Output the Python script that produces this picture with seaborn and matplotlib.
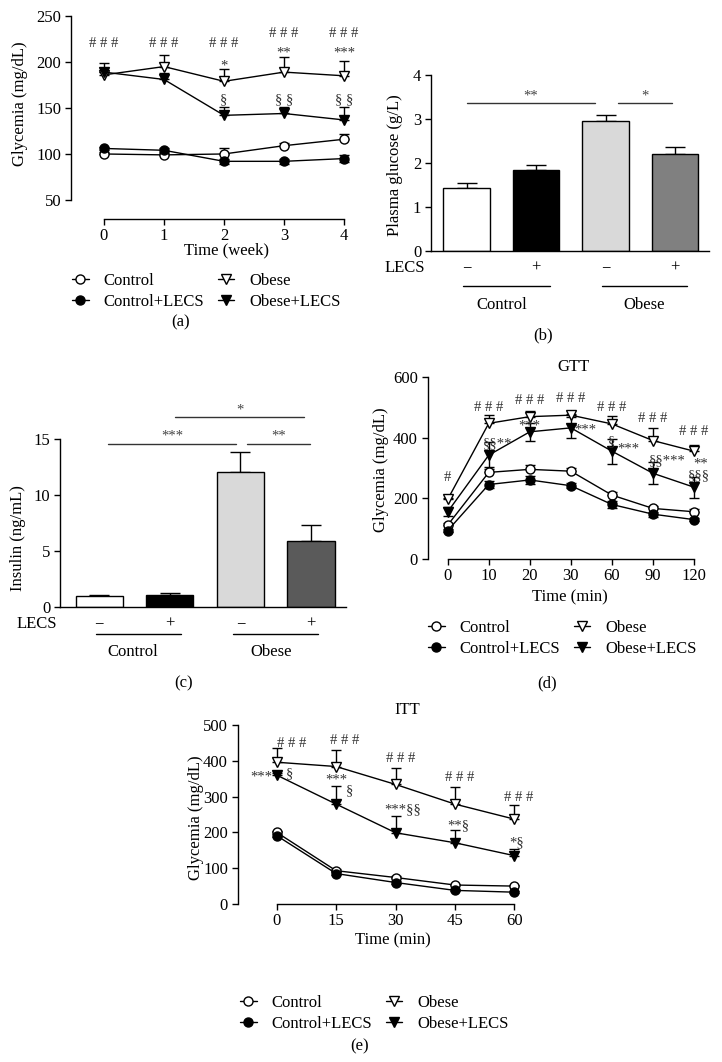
import matplotlib
matplotlib.use('Agg')
import matplotlib.pyplot as plt
import matplotlib.transforms as mtrans
from matplotlib.lines import Line2D
import numpy as np
import seaborn as sns

W, H = 722, 1062

# ── Data ───────────────────────────────────────────────────────────────────────
series = ['Control', 'Control+LECS', 'Obese', 'Obese+LECS']

# (a) weekly glycemia (mg/dL)
weeks = [0, 1, 2, 3, 4]
a_ctrl = [100, 99, 100, 109, 116]
a_ctrl_err = [2, 2, 6, 3, 6]
a_ctrl_lecs = [106, 104, 92, 92, 95]
a_ctrl_lecs_err = [2, 2, 3, 3, 4]
a_obese = [186, 195, 179, 189, 185]
a_obese_err = [3, 13, 13, 16, 16]
a_obese_lecs = [189, 181, 142, 144, 137]
a_obese_lecs_err = [10, 7, 9, 7, 14]

# (b) plasma glucose (g/L)
b_glucose = [1.43, 1.83, 2.96, 2.20]
b_glucose_err = [0.12, 0.13, 0.12, 0.17]

# (c) insulin (ng/mL)
c_insulin = [0.97, 1.10, 12.05, 5.95]
c_insulin_err = [0.13, 0.20, 1.80, 1.40]

# (d) GTT (mg/dL)
gtt_time = ['0', '10', '20', '30', '60', '90', '120']
gtt_ctrl = [112, 286, 296, 290, 211, 167, 156]
gtt_ctrl_err = [8, 18, 15, 12, 10, 8, 8]
gtt_ctrl_lecs = [94, 246, 261, 242, 180, 148, 130]
gtt_ctrl_lecs_err = [6, 10, 12, 8, 10, 8, 6]
gtt_obese = [197, 448, 470, 475, 446, 391, 356]
gtt_obese_err = [5, 27, 20, 5, 27, 43, 19]
gtt_obese_lecs = [156, 343, 420, 433, 356, 283, 237]
gtt_obese_lecs_err = [15, 45, 30, 35, 41, 36, 34]

# (e) ITT (mg/dL)
itt_time = [0, 15, 30, 45, 60]
itt_ctrl = [200, 93, 74, 53, 50]
itt_ctrl_err = [4, 4, 3, 3, 3]
itt_ctrl_lecs = [191, 85, 60, 38, 33]
itt_ctrl_lecs_err = [4, 3, 3, 3, 3]
itt_obese = [396, 384, 334, 279, 237]
itt_obese_err = [39, 45, 47, 47, 40]
itt_obese_lecs = [360, 279, 199, 171, 135]
itt_obese_lecs_err = [5, 51, 47, 37, 18]

# significance marks (x, y, text) in data units
a_marks = [(0, 220, '# # #'), (1, 220, '# # #'), (2, 220, '# # #'),
           (3, 231, '# # #'), (4, 231, '# # #'),
           (2, 196, '*'), (3, 210, '**'), (4, 210, '***'),
           (2, 159, '§'), (3, 159, '§ §'), (4, 159, '§ §')]
d_marks = [(0, 270, '#'), (1, 500, '# # #'), (2, 522, '# # #'), (3, 530, '# # #'),
           (4, 500, '# # #'), (5, 464, '# # #'), (6, 420, '# # #'),
           (1.21, 380, '§§**'), (2, 438, '***'), (3.36, 427, '***'),
           (4.0, 386, '§'), (4.4, 363, '***'), (5.35, 323, '§§***'),
           (6.15, 312, '**'), (6.12, 275, '§§§')]
e_marks = [(3.8, 447, '# # #'), (17.2, 456, '# # #'), (31.4, 407, '# # #'),
           (46.3, 354, '# # #'), (61, 297, '# # #'),
           (-3.8, 354, '***'), (3.2, 363, '§'), (15, 347, '***'), (18.3, 316, '§'),
           (31.8, 264, '***§§'), (45.8, 219, '**§'), (60.6, 170, '*§')]

# ── Style ──────────────────────────────────────────────────────────────────────
sns.set_theme(style='ticks')
plt.rcParams['font.family'] = ['Liberation Serif', 'DejaVu Serif']
plt.rcParams.update({
    'font.size': 12, 'axes.labelsize': 12,
    'xtick.labelsize': 12, 'ytick.labelsize': 12,
    'axes.linewidth': 1, 'axes.edgecolor': 'black',
    'xtick.major.width': 1, 'ytick.major.width': 1,
    'xtick.major.size': 4, 'ytick.major.size': 4,
    'xtick.major.pad': 2.5, 'ytick.major.pad': 3,
    'xtick.color': 'black', 'ytick.color': 'black',
    'text.color': 'black', 'axes.labelcolor': 'black',
})

MARK = {'Control': ('o', 'white'), 'Control+LECS': ('o', 'black'),
        'Obese': ('v', 'white'), 'Obese+LECS': ('v', 'black')}
FS = 12      # general text
FS_MARK = 10.5  # significance symbols

fig = plt.figure(figsize=(W / 100, H / 100), dpi=100)


def add_ax(left, top, right, bottom):
    return fig.add_axes([left / W, 1 - bottom / H, (right - left) / W, (bottom - top) / H])


def fx(px):
    return px / W


def fy(px):
    return 1 - px / H


def place_labels(ax, xlab, ylab):
    if xlab:
        ax.xaxis.set_label_coords(fx(xlab[0]), fy(xlab[1]), transform=fig.transFigure)
        ax.xaxis.label.set_verticalalignment('center')
    ax.yaxis.set_label_coords(fx(ylab[0]), fy(ylab[1]), transform=fig.transFigure)
    ax.yaxis.label.set_verticalalignment('center')


def draw_lines(ax, x, data, errs, two_sided=()):
    for name in series:
        e = np.array(errs[name])
        yerr = e if name in two_sided else [np.zeros_like(e), e]
        ax.errorbar(x, data[name], yerr=yerr, fmt='none', ecolor='black',
                    elinewidth=1, capsize=3.5, capthick=1, zorder=1)
    for name in series:
        m, fc = MARK[name]
        sns.lineplot(x=x, y=data[name], ax=ax, color='black', linewidth=1,
                     marker=m, markerfacecolor=fc, markeredgecolor='black',
                     markeredgewidth=1, markersize=6.5, zorder=3)


def draw_marks(ax, marks):
    for x, y, t in marks:
        ax.text(x, y, t, ha='center', va='center', fontsize=FS_MARK, color='#333333')


def add_legend(xpx, ypx):
    handles = [Line2D([], [], color='black', lw=1, marker=MARK[n][0],
                      markerfacecolor=MARK[n][1], markeredgecolor='black', markersize=6.5)
               for n in series]
    fig.legend(handles, series, loc='upper left', bbox_to_anchor=(fx(xpx), fy(ypx)),
               ncol=2, frameon=False, fontsize=FS, handlelength=1.0,
               handletextpad=0.9, columnspacing=0.8, labelspacing=0.3,
               borderpad=0, borderaxespad=0)


def bar_panel(ax, vals, errs, colors, ymax, ticks):
    sns.barplot(x=series, y=vals, hue=series, palette=colors, legend=False,
                width=0.67, edgecolor='black', linewidth=1, ax=ax, zorder=2)
    ax.errorbar(range(len(vals)), vals, yerr=[np.zeros(len(errs)), errs], fmt='none',
                ecolor='black', elinewidth=1, capsize=7.5, capthick=1, zorder=1)
    ax.set_ylim(0, ymax)
    ax.set_yticks(ticks)
    ax.set_xticks([])
    ax.set_xlabel('')
    sns.despine(ax=ax)


def group_labels(ax, lecs_x, row_y, line_y, name_y, lines, names):
    tr = mtrans.blended_transform_factory(ax.transData, fig.transFigure)
    ax.text(lecs_x, fy(row_y), 'LECS', transform=tr, ha='center', va='center', fontsize=FS)
    for i, s in enumerate(['−', '+', '−', '+']):
        ax.text(i, fy(row_y), s, transform=tr, ha='center', va='center', fontsize=FS)
    for (x0, x1), (xn, nm) in zip(lines, names):
        ax.plot([x0, x1], [fy(line_y)] * 2, transform=tr, color='black', lw=1, clip_on=False)
        ax.text(xn, fy(name_y), nm, transform=tr, ha='center', va='center', fontsize=FS)


def sig_line(ax, x0, x1, y, ytext, text):
    ax.plot([x0, x1], [y, y], color='#333333', lw=1, clip_on=False)
    ax.text((x0 + x1) / 2, ytext, text, ha='center', va='center', fontsize=FS_MARK, color='#444444')


# ── (a) weekly glycemia ───────────────────────────────────────────────────────
ax = add_ax(71, 16, 362, 219)
draw_lines(ax, weeks,
           {'Control': a_ctrl, 'Control+LECS': a_ctrl_lecs, 'Obese': a_obese, 'Obese+LECS': a_obese_lecs},
           {'Control': a_ctrl_err, 'Control+LECS': a_ctrl_lecs_err, 'Obese': a_obese_err, 'Obese+LECS': a_obese_lecs_err},
           two_sided=('Control+LECS',))
ax.set_xlim(-0.55, 4.3)
ax.set_ylim(29.3, 250)
ax.set_xticks(weeks)
ax.set_yticks([50, 100, 150, 200, 250])
ax.spines['left'].set_bounds(50, 250)
ax.spines['bottom'].set_bounds(0, 4)
sns.despine(ax=ax)
ax.set_xlabel('Time (week)')
ax.set_ylabel('Glycemia (mg/dL)')
place_labels(ax, (226, 250), (20, 104))
draw_marks(ax, a_marks)
add_legend(72, 273)
fig.text(fx(181), fy(322), '(a)', ha='center', va='center', fontsize=FS)

# ── (b) plasma glucose ────────────────────────────────────────────────────────
ax = add_ax(431, 75, 709, 250.7)
bar_panel(ax, b_glucose, b_glucose_err, ['white', 'black', '#d9d9d9', '#808080'], 4, [0, 1, 2, 3, 4])
ax.set_xlim(-0.514, 3.49)
ax.set_ylabel('Plasma glucose (g/L)')
place_labels(ax, None, (395, 165))
sig_line(ax, 0, 1.85, 3.37, 3.53, '**')
sig_line(ax, 2.18, 2.96, 3.37, 3.53, '*')
group_labels(ax, -0.89, 268, 286, 305, [(-0.05, 1.2), (1.95, 3.17)],
             [(0.5, 'Control'), (2.55, 'Obese')])
fig.text(fx(543), fy(335), '(b)', ha='center', va='center', fontsize=FS)

# ── (c) insulin ───────────────────────────────────────────────────────────────
ax = add_ax(60, 439.3, 345.5, 607.3)
bar_panel(ax, c_insulin, c_insulin_err, ['white', 'black', '#d9d9d9', '#5a5a5a'], 15, [0, 5, 10, 15])
ax.set_xlim(-0.556, 3.49)
ax.set_ylabel('Insulin (ng/mL)')
place_labels(ax, None, (18, 538))
sig_line(ax, 0.13, 1.94, 14.6, 15.3, '***')
sig_line(ax, 2.09, 2.99, 14.6, 15.3, '**')
sig_line(ax, 1.08, 2.9, 17.0, 17.6, '*')
group_labels(ax, -0.89, 624, 634, 652, [(-0.05, 1.16), (1.9, 3.1)],
             [(0.48, 'Control'), (2.43, 'Obese')])
fig.text(fx(184), fy(683), '(c)', ha='center', va='center', fontsize=FS)

# ── (d) GTT ───────────────────────────────────────────────────────────────────
ax = add_ax(427.7, 377.3, 715, 559)
gx = list(range(len(gtt_time)))
draw_lines(ax, gx,
           {'Control': gtt_ctrl, 'Control+LECS': gtt_ctrl_lecs, 'Obese': gtt_obese, 'Obese+LECS': gtt_obese_lecs},
           {'Control': gtt_ctrl_err, 'Control+LECS': gtt_ctrl_lecs_err, 'Obese': gtt_obese_err, 'Obese+LECS': gtt_obese_lecs_err},
           two_sided=('Control+LECS', 'Obese+LECS'))
ax.set_xlim(-0.487, 6.51)
ax.set_ylim(0, 600)
ax.set_xticks(gx)
ax.set_xticklabels(gtt_time)
ax.set_yticks([0, 200, 400, 600])
ax.spines['bottom'].set_bounds(0, 6)
sns.despine(ax=ax)
ax.set_xlabel('Time (min)')
ax.set_ylabel('Glycemia (mg/dL)')
place_labels(ax, (570, 597), (381, 470))
draw_marks(ax, d_marks)
fig.text(fx(573), fy(367), 'GTT', ha='center', va='center', fontsize=FS)
add_legend(428, 620)
fig.text(fx(547), fy(683), '(d)', ha='center', va='center', fontsize=FS)

# ── (e) ITT ───────────────────────────────────────────────────────────────────
ax = add_ax(237.7, 725, 535, 904)
draw_lines(ax, itt_time,
           {'Control': itt_ctrl, 'Control+LECS': itt_ctrl_lecs, 'Obese': itt_obese, 'Obese+LECS': itt_obese_lecs},
           {'Control': itt_ctrl_err, 'Control+LECS': itt_ctrl_lecs_err, 'Obese': itt_obese_err, 'Obese+LECS': itt_obese_lecs_err},
           two_sided=('Control+LECS',))
ax.set_xlim(-9.85, 65.2)
ax.set_ylim(0, 500)
ax.set_xticks(itt_time)
ax.set_yticks([0, 100, 200, 300, 400, 500])
ax.spines['bottom'].set_bounds(0, 60)
sns.despine(ax=ax)
ax.set_xlabel('Time (min)')
ax.set_ylabel('Glycemia (mg/dL)')
place_labels(ax, (393, 940), (196, 818))
draw_marks(ax, e_marks)
fig.text(fx(407), fy(710), 'ITT', ha='center', va='center', fontsize=FS)
add_legend(240, 995)
fig.text(fx(360), fy(1046), '(e)', ha='center', va='center', fontsize=FS)

fig.savefig('out.png', dpi=100)
